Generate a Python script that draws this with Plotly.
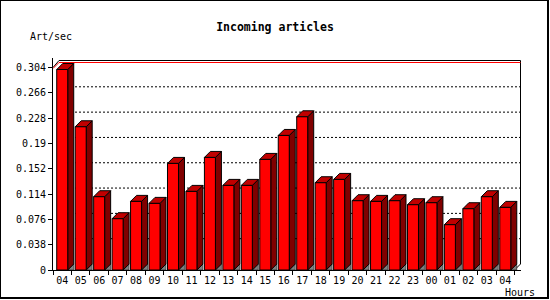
import plotly.graph_objects as go

# ---- data ----
hours = ["04", "05", "06", "07", "08", "09", "10", "11", "12", "13", "14", "15", "16",
         "17", "18", "19", "20", "21", "22", "23", "00", "01", "02", "03", "04"]
values = [0.301, 0.215, 0.110, 0.077, 0.103, 0.100, 0.160, 0.118, 0.169, 0.127, 0.127,
          0.166, 0.202, 0.230, 0.131, 0.136, 0.104, 0.103, 0.104, 0.098, 0.101, 0.068,
          0.092, 0.110, 0.094]
y_ticks = [0, 0.038, 0.076, 0.114, 0.152, 0.19, 0.228, 0.266, 0.304]
y_ticktext = ["0", "0.038", "0.076", "0.114", "0.152", "0.19", "0.228", "0.266", "0.304"]
max_line = 0.304

# ---- geometry (pixels) ----
W, H = 550, 300
ML, MR, MT, MB = 53, 29, 58, 30
PW, PH = W - ML - MR, H - MT - MB
pitch = 18.46                 # px per category
kpx = 202.5 / 0.304           # px per unit value
depth = 6.0                   # 3D depth in px
dx = depth / pitch
dy = depth / kpx
half = 0.298                  # half bar width (category units)
n = len(values)
x_lo = -0.5
x_hi = x_lo + PW / pitch
y_hi = PH / kpx

FRONT = "#ff0000"
TOP = "#c00000"
SIDE = "#800000"
GRAY = "#808080"
MONO = "DejaVu Sans Mono"


def poly_trace(polys, color, lw=1):
    xs, ys = [], []
    for p in polys:
        for (a, b) in p:
            xs.append(a)
            ys.append(b)
        xs.append(p[0][0])
        ys.append(p[0][1])
        xs.append(None)
        ys.append(None)
    return go.Scatter(x=xs, y=ys, mode="lines", fill="toself", fillcolor=color,
                      line=dict(color="black", width=lw), hoverinfo="skip",
                      showlegend=False)


fig = go.Figure()

# back-wall dotted grid lines
gx, gy = [], []
for t in y_ticks[1:-1]:
    gx += [x_lo + dx, n - 0.5 + dx, None]
    gy += [t + dy, t + dy, None]
fig.add_trace(go.Scatter(x=gx, y=gy, mode="lines",
                         line=dict(color="black", width=1, dash="2px,2px"),
                         hoverinfo="skip", showlegend=False))

top_frame = max_line + dy + 1.0 / kpx

# frame (back wall top/right and corner diagonals)
fx = [x_lo, x_lo + dx, n - 0.5 + dx, n - 0.5 + dx, n - 0.5]
fy = [max_line, top_frame, top_frame, dy, 0]
fig.add_trace(go.Scatter(x=fx, y=fy, mode="lines", line=dict(color="black", width=1),
                         hoverinfo="skip", showlegend=False))

# max line (red)
fig.add_trace(go.Scatter(x=[x_lo, x_lo + dx, n - 0.5 + dx],
                         y=[max_line - 1.0 / kpx, max_line + dy - 1.0 / kpx,
                            max_line + dy - 1.0 / kpx],
                         mode="lines", line=dict(color="red", width=1),
                         hoverinfo="skip", showlegend=False))

# floor shadows and 3D bar faces
floor = []
fronts, tops, sides = [], [], []
for i, v in enumerate(values):
    l, r = i - half, i + half
    floor.append([(r, 0), (r + dx, 0), (r + dx, dy)])
    fronts.append([(l, 0), (r, 0), (r, v), (l, v)])
    tops.append([(l, v), (r, v), (r + dx, v + dy), (l + dx, v + dy)])
    sides.append([(r, 0), (r + dx, dy), (r + dx, v + dy), (r, v)])

fig.add_trace(poly_trace(floor, GRAY, lw=0.5))
fig.add_trace(poly_trace(sides, SIDE))
fig.add_trace(poly_trace(tops, TOP))
fig.add_trace(poly_trace(fronts, FRONT))


def px_x(px):
    return (px - ML) / PW


def px_y(py):
    return (H - MB - py) / PH


fig.update_layout(
    width=W, height=H, autosize=False,
    margin=dict(l=ML, r=MR, t=MT, b=MB, pad=0),
    paper_bgcolor="white", plot_bgcolor="white",
    showlegend=False,
    title=dict(text="<b>Incoming articles</b>", x=0.5, xanchor="center",
               y=1 - 27 / H, yanchor="middle",
               font=dict(family=MONO, size=11.5, color="black")),
    xaxis=dict(range=[x_lo, x_hi], showgrid=False, zeroline=False,
               showline=True, linecolor="black", linewidth=1,
               tickmode="array", tickvals=list(range(n)), ticktext=hours,
               ticks="outside", ticklen=1, tickcolor="rgba(0,0,0,0)",
               tickfont=dict(family=MONO, size=10, color="black"),
               minor=dict(tickmode="array", tickvals=[i - 0.5 for i in range(n + 1)],
                          ticks="outside", ticklen=4, tickcolor="black", tickwidth=1,
                          showgrid=False),
               fixedrange=True),
    yaxis=dict(range=[0, y_hi], showgrid=False, zeroline=False,
               showline=True, linecolor="black", linewidth=1,
               tickmode="array", tickvals=y_ticks, ticktext=y_ticktext,
               ticks="outside", ticklen=4, tickcolor="black", tickwidth=1,
               tickfont=dict(family=MONO, size=10, color="black"),
               fixedrange=True),
    annotations=[
        dict(text="Art/sec", xref="paper", yref="paper", x=px_x(50.5), y=px_y(37),
             xanchor="center", yanchor="middle", showarrow=False,
             font=dict(family=MONO, size=10, color="black")),
        dict(text="Hours", xref="paper", yref="paper", x=px_x(519.5), y=px_y(292.5),
             xanchor="center", yanchor="middle", showarrow=False,
             font=dict(family=MONO, size=10, color="black")),
    ],
    shapes=[
        dict(type="line", xref="paper", yref="paper", x0=px_x(0.5), x1=px_x(0.5),
             y0=px_y(0), y1=px_y(299), line=dict(color="black", width=1)),
        dict(type="line", xref="paper", yref="paper", x0=px_x(0), x1=px_x(549),
             y0=px_y(0.5), y1=px_y(0.5), line=dict(color="black", width=1)),
        dict(type="line", xref="paper", yref="paper", x0=px_x(548), x1=px_x(548),
             y0=px_y(0), y1=px_y(299), line=dict(color="black", width=2)),
        dict(type="line", xref="paper", yref="paper", x0=px_x(0), x1=px_x(549),
             y0=px_y(298), y1=px_y(298), line=dict(color="black", width=2)),
    ],
)

fig.write_html("out.html", config={"displayModeBar": False, "staticPlot": True})
